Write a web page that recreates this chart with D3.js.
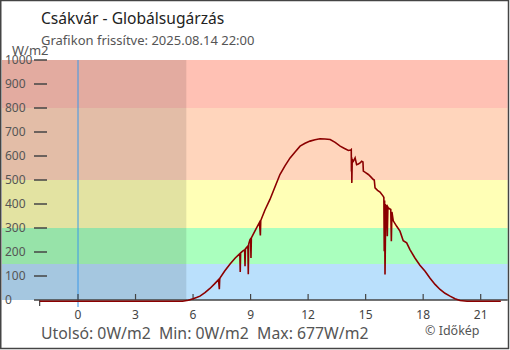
<!DOCTYPE html>
<html>
<head>
<meta charset="utf-8">
<script src="https://cdn.jsdelivr.net/npm/d3@7"></script>
<style>
  html, body { margin: 0; padding: 0; background: #fff; }
  svg { display: block; font-family: "Noto Sans", sans-serif; }
</style>
</head>
<body>
<svg id="chart" width="510" height="350"></svg>
<script>
// Global radiation, W/m2, by hour of day (negative = previous evening)
const hours = [
  -2, 5.45, 5.6, 5.75, 6.0, 6.18, 6.36, 6.62, 6.88, 7.12, 7.33, 7.37, 7.39, 7.41, 7.65, 7.93,
  8.2, 8.44, 8.46, 8.48, 8.6, 8.69, 8.71, 8.73, 8.8, 8.86, 8.88, 8.9, 8.97, 9.0, 9.02, 9.04,
  9.25, 9.46, 9.51, 9.53, 9.75, 10.01, 10.27, 10.53, 10.8, 11.06, 11.32, 11.58, 11.84, 12.1,
  12.36, 12.62, 12.88, 13.15, 13.41, 13.67, 13.9, 14.1, 14.22, 14.25, 14.26, 14.27, 14.28,
  14.3, 14.36, 14.45, 14.53, 14.62, 14.71, 14.79, 14.86, 14.88, 15.0, 15.14, 15.27, 15.4,
  15.45, 15.49, 15.62, 15.75, 15.92, 15.95, 15.97, 15.99, 16.01, 16.05, 16.1, 16.13, 16.16,
  16.18, 16.31, 16.34, 16.37, 16.44, 16.62, 16.79, 16.96, 17.14, 17.31, 17.57, 17.83, 18.1,
  18.36, 18.62, 18.88, 19.14, 19.4, 19.66, 19.92, 20.29, 22.05
];
const radiation = [
  0, 0, 2, 4, 10, 15, 21, 36, 53, 72, 90, 50, 92, 97, 126, 155,
  180, 198, 122, 201, 210, 214, 146, 218, 225, 230, 112, 238, 257, 260, 180, 264,
  296, 328, 274, 336, 380, 424, 476, 528, 565, 597, 622, 646, 658, 667,
  673, 677, 676, 674, 662, 646, 636, 628, 630, 632, 540, 600, 493,
  590, 583, 597, 569, 572, 576, 583, 580, 542, 536, 528, 518, 507,
  505, 472, 462, 455, 437, 432, 208, 420, 111, 400, 396, 271, 392,
  389, 382, 250, 372, 335, 312, 292, 252, 243, 215, 180, 150, 125,
  96, 70, 49, 33, 21, 10, 3, 0, 0
];

const yTicks = [0, 100, 200, 300, 400, 500, 600, 700, 800, 900, 1000];
const xTicks = [0, 3, 6, 9, 12, 15, 18, 21];

// Intensity bands: lower limit, upper limit, colour
const bandLow = [0, 150, 300, 500, 800];
const bandHigh = [150, 300, 500, 800, 1000];
const bandColors = ["#bae0fc", "#aaffbe", "#ffffb6", "#ffd5bc", "#ffc1b4"];

const sunrise = 5.65;

const svg = d3.select("#chart");
const plotLeft = 2, plotRight = 507.7;

const x = d3.scaleLinear().domain([0, 21]).range([78, 480.7]);
const y = d3.scaleLinear().domain([0, 1000]).range([300, 60]);

// background bands
svg.append("g").selectAll("rect")
  .data(bandLow.map((lo, i) => ({ lo, hi: bandHigh[i], c: bandColors[i] })))
  .join("rect")
  .attr("x", plotLeft)
  .attr("width", plotRight - plotLeft)
  .attr("y", d => y(d.hi))
  .attr("height", d => y(d.lo) - y(d.hi))
  .attr("fill", d => d.c);

// night shading before sunrise
svg.append("rect")
  .attr("x", plotLeft)
  .attr("y", y(1000))
  .attr("width", x(sunrise) - plotLeft)
  .attr("height", y(0) - y(1000))
  .attr("fill", "#000")
  .attr("fill-opacity", 0.11);

// midnight marker
svg.append("line")
  .attr("x1", x(0)).attr("x2", x(0))
  .attr("y1", y(1000)).attr("y2", 307)
  .attr("stroke", "#3a98e8").attr("stroke-width", 1);

// y axis labels and ticks
const yAxis = svg.append("g");
yAxis.selectAll("line")
  .data(yTicks.filter(t => t > 0))
  .join("line")
  .attr("x1", 34).attr("x2", 47)
  .attr("y1", d => y(d)).attr("y2", d => y(d))
  .attr("stroke", "#444").attr("stroke-width", 1.5);
yAxis.selectAll("text")
  .data(yTicks)
  .join("text")
  .attr("x", 5)
  .attr("y", d => y(d) + 4)
  .attr("font-size", 12)
  .attr("fill", "#555")
  .text(d => d);

svg.append("text")
  .attr("x", 12).attr("y", 55)
  .attr("font-size", 13)
  .attr("fill", "#555")
  .text("W/m2");

// x axis
const xAxis = svg.append("g");
xAxis.append("line")
  .attr("x1", 34).attr("x2", plotRight)
  .attr("y1", y(0)).attr("y2", y(0))
  .attr("stroke", "#444").attr("stroke-width", 1.5);
xAxis.selectAll("line.tick")
  .data(xTicks)
  .join("line")
  .attr("class", "tick")
  .attr("x1", d => x(d)).attr("x2", d => x(d))
  .attr("y1", y(0) - 6).attr("y2", y(0))
  .attr("stroke", "#444").attr("stroke-width", 1.2);
xAxis.append("line")
  .attr("x1", x(-2)).attr("x2", x(-2))
  .attr("y1", y(0)).attr("y2", y(0) + 6)
  .attr("stroke", "#444").attr("stroke-width", 1.2);
xAxis.selectAll("text")
  .data(xTicks)
  .join("text")
  .attr("x", d => x(d))
  .attr("y", 319)
  .attr("text-anchor", "middle")
  .attr("font-size", 12)
  .attr("fill", "#444")
  .text(d => d);

// radiation line
const line = d3.line()
  .x((d, i) => x(hours[i]))
  .y(d => y(d) + 1.2);
svg.append("path")
  .datum(radiation)
  .attr("d", line)
  .attr("fill", "none")
  .attr("stroke", "#8b0000")
  .attr("stroke-width", 1.6)
  .attr("stroke-linejoin", "miter");

// titles
svg.append("text")
  .attr("x", 41).attr("y", 24)
  .attr("font-size", 15.6)
  .attr("fill", "#222")
  .text("Csákvár - Globálsugárzás");
svg.append("text")
  .attr("x", 41).attr("y", 45)
  .attr("font-size", 13)
  .attr("fill", "#555")
  .text("Grafikon frissítve: 2025.08.14 22:00");

// footer
const last = radiation[radiation.length - 1];
const minV = d3.min(radiation), maxV = d3.max(radiation);
svg.append("text")
  .attr("x", 41).attr("y", 339)
  .attr("font-size", 15.8)
  .attr("fill", "#555")
  .attr("xml:space", "preserve")
  .text(`Utolsó: ${last}W/m2  Min: ${minV}W/m2  Max: ${maxV}W/m2`);
svg.append("text")
  .attr("x", 425).attr("y", 335)
  .attr("font-size", 12.5)
  .attr("fill", "#555")
  .text("© Időkép");

// frame
svg.append("rect")
  .attr("x", 0.75).attr("y", 0.5)
  .attr("width", 507.75).attr("height", 348)
  .attr("fill", "none")
  .attr("stroke", "#444")
  .attr("stroke-width", 1.5);
</script>
</body>
</html>
